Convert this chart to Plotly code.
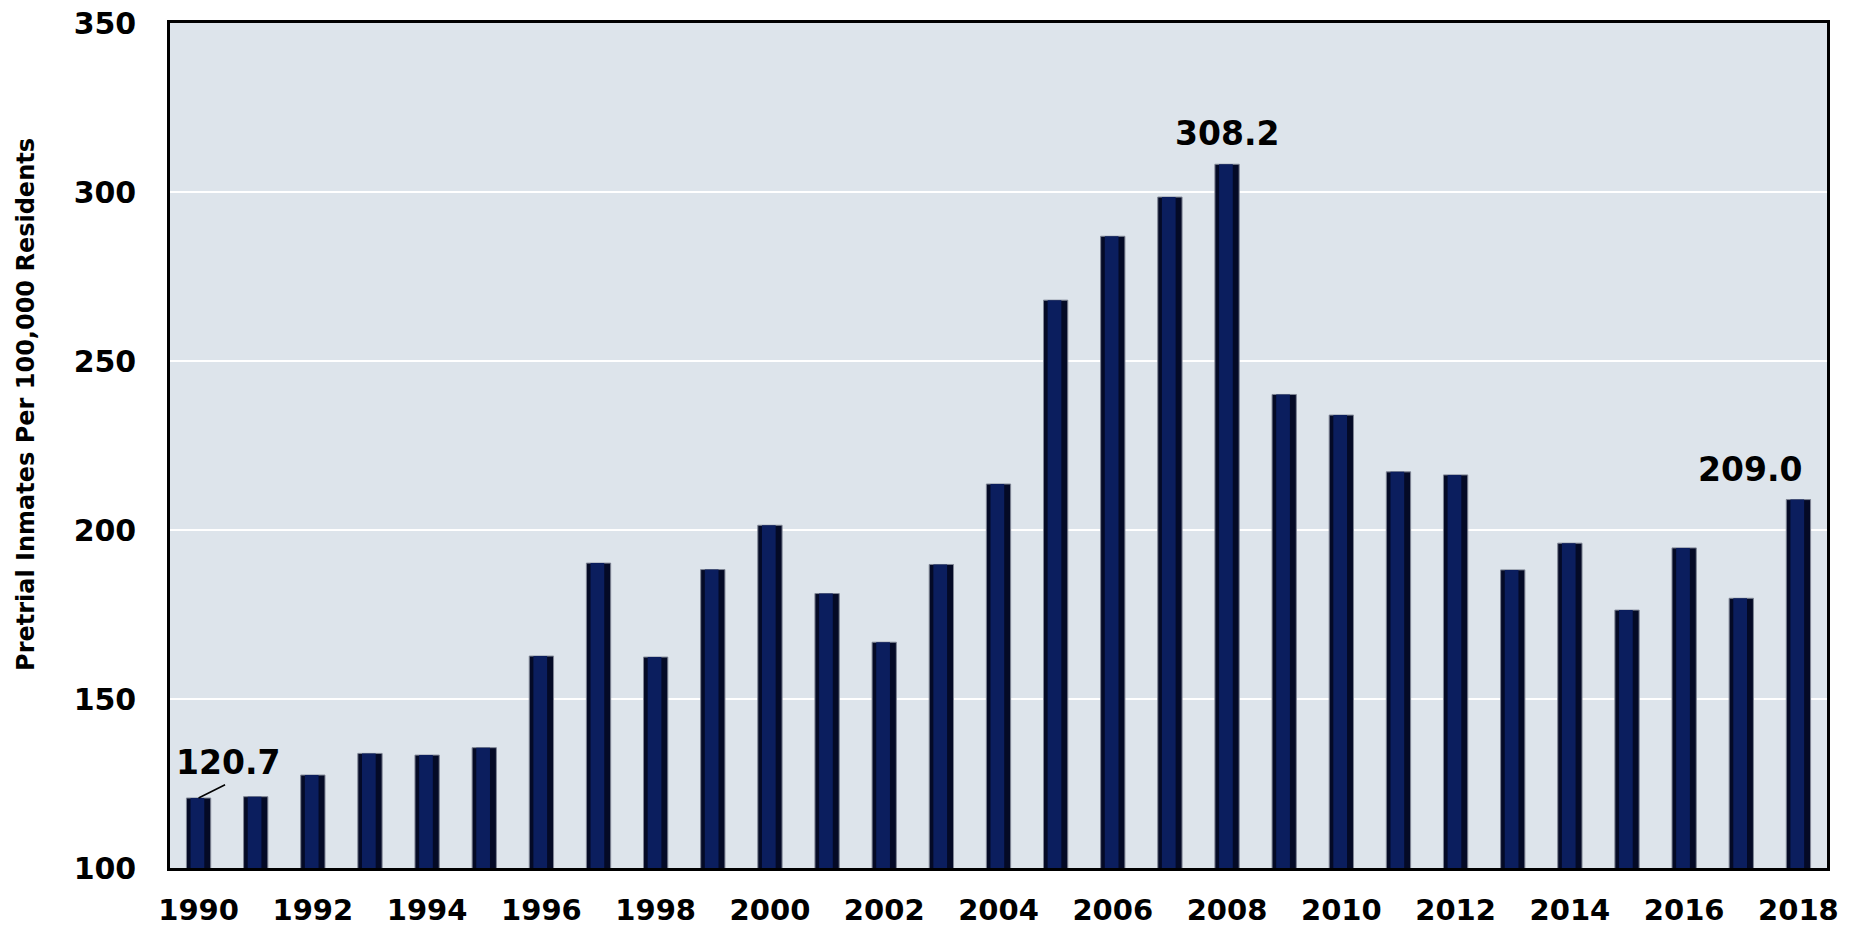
import plotly.graph_objects as go

years = list(range(1990, 2019))
values = [120.7, 121.1, 127.5, 133.9, 133.4, 135.6, 162.7, 190.2, 162.4, 188.3,
          201.4, 181.2, 166.8, 189.8, 213.6, 268.0, 286.9, 298.5, 308.2, 240.1,
          234.0, 217.2, 216.3, 188.2, 196.1, 176.3, 194.7, 179.8, 209.0]
tick_years = list(range(1990, 2019, 2))
y_ticks = [100, 150, 200, 250, 300, 350]

FONT = "DejaVu Sans"

fig = go.Figure()
# outer dark bar (edges)
fig.add_trace(go.Bar(
    x=years, y=values, width=0.425,
    marker=dict(color="#040a26", line=dict(color="#7f8594", width=1)),
    hoverinfo="x+y", showlegend=False,
))
# inner lighter navy core to suggest the gradient
fig.add_trace(go.Bar(
    x=years, y=values, width=0.24, offset=-0.14,
    marker=dict(color="#0b1e5e", line=dict(width=0)),
    hoverinfo="skip", showlegend=False,
))

bold = dict(family=FONT, size=33, color="black", weight="bold")
annots = []
annots.append(dict(x=1990, y=values[0], xref="x", yref="y", text="",
                   showarrow=True, arrowhead=0, arrowwidth=1.5, arrowcolor="black",
                   ax=28, ay=-14, standoff=0))
annots.append(dict(x=1990, y=values[0], xref="x", yref="y", text="120.7",
                   showarrow=False, xshift=29, yshift=36, font=bold))
annots.append(dict(x=2008, y=values[years.index(2008)], xref="x", yref="y", text="308.2",
                   showarrow=False, xshift=0, yshift=31, font=bold))
annots.append(dict(x=2018, y=values[years.index(2018)], xref="x", yref="y", text="209.0",
                   showarrow=False, xshift=-48, yshift=30, font=bold))
annots.append(dict(x=0, y=0.548, xref="paper", yref="paper", xanchor="center", yanchor="middle",
                   xshift=-144, text="Pretrial Inmates Per 100,000 Residents", textangle=-90,
                   showarrow=False, font=dict(family=FONT, size=24, color="black", weight="bold")))

fig.update_layout(
    width=1868, height=930,
    margin=dict(l=170, r=41, t=23, b=62),
    paper_bgcolor="white", plot_bgcolor="#dde4eb",
    barmode="overlay",
    annotations=annots,
    font=dict(family=FONT, color="black"),
    xaxis=dict(range=[1989.5, 2018.5], tickvals=tick_years, ticktext=[str(t) for t in tick_years],
               showgrid=False, showline=True, linecolor="black", linewidth=2.5, mirror=True,
               ticks="", ticklabelstandoff=14, automargin=False,
               tickfont=dict(family=FONT, size=29, color="black", weight="bold")),
    yaxis=dict(range=[100, 350], tickvals=y_ticks, showgrid=True, gridcolor="white", gridwidth=2,
               showline=True, linecolor="black", linewidth=2.5, mirror=True, zeroline=False,
               ticks="", ticklabelstandoff=25, automargin=False,
               tickfont=dict(family=FONT, size=30, color="black", weight="bold")),
)

fig.write_html("out.html", config={"displayModeBar": False},
               post_script="document.body.style.margin='0px';document.body.style.overflow='hidden';")
